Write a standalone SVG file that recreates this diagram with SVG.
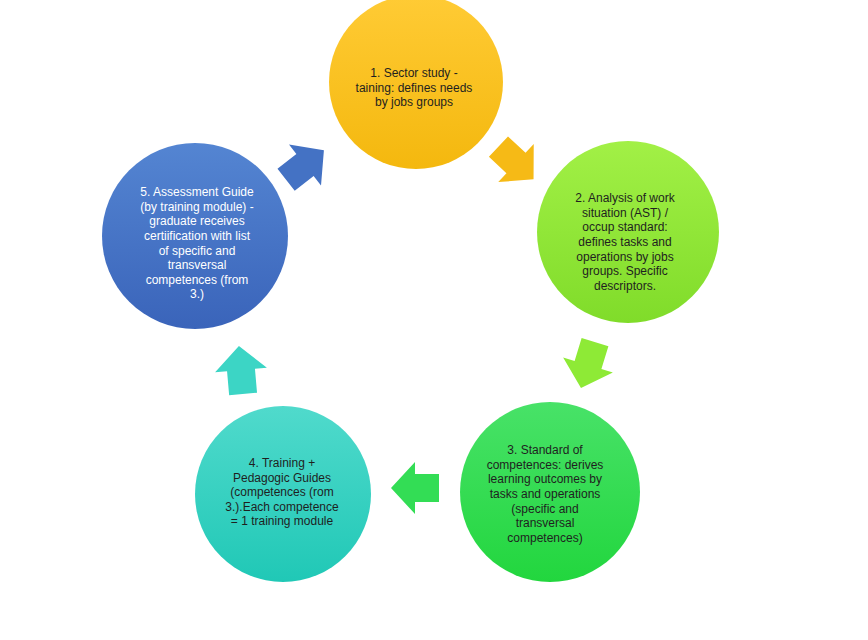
<svg xmlns="http://www.w3.org/2000/svg" width="868" height="640" viewBox="0 0 868 640">
<style>
.t{font-family:"Liberation Sans",Arial,sans-serif;font-size:12px;text-anchor:middle;fill:#1f1f1f}
.w{fill:#ffffff}
</style>
<defs>
<linearGradient id="gy" x1="0" y1="0" x2="0" y2="1"><stop offset="0" stop-color="#FFCB35"/><stop offset="1" stop-color="#F4B80E"/></linearGradient>
<linearGradient id="gl" x1="0" y1="0" x2="0" y2="1"><stop offset="0" stop-color="#A2F046"/><stop offset="1" stop-color="#80DC2A"/></linearGradient>
<linearGradient id="gg" x1="0" y1="0" x2="0" y2="1"><stop offset="0" stop-color="#48E268"/><stop offset="1" stop-color="#22D63E"/></linearGradient>
<linearGradient id="gt" x1="0" y1="0" x2="0" y2="1"><stop offset="0" stop-color="#50DACC"/><stop offset="1" stop-color="#20C8B6"/></linearGradient>
<linearGradient id="gb" x1="0" y1="0" x2="0" y2="1"><stop offset="0" stop-color="#5485D2"/><stop offset="1" stop-color="#3A64BA"/></linearGradient>
<polygon id="arr" points="-24,-14 0,-14 0,-26 24,0 0,26 0,14 -24,14"/>
</defs>
<rect width="868" height="640" fill="#ffffff"/>
<g id="connectors">
<use href="#arr" transform="translate(516,163) rotate(43)" fill="#F6BA16"/>
<use href="#arr" transform="translate(588,365) rotate(107)" fill="#8EEA36"/>
<use href="#arr" transform="translate(415,488) rotate(180)" fill="#33DD55"/>
<use href="#arr" transform="translate(241,370) rotate(-95)" fill="#3CD5C5"/>
<use href="#arr" transform="translate(305,165) rotate(-38)" fill="#4472C4"/>
</g>
<g id="node1">
<circle cx="416" cy="82" r="87" fill="url(#gy)"/>
<text class="t" x="414" y="77">1. Sector study -</text>
<text class="t" x="414" y="92">taining: defines needs</text>
<text class="t" x="414" y="106">by jobs groups</text>
</g>
<g id="node2">
<circle cx="628" cy="232" r="91" fill="url(#gl)"/>
<text class="t" x="625" y="202">2. Analysis of work</text>
<text class="t" x="625" y="217">situation (AST) /</text>
<text class="t" x="625" y="231">occup standard:</text>
<text class="t" x="625" y="246">defines tasks and</text>
<text class="t" x="625" y="261">operations by jobs</text>
<text class="t" x="625" y="275">groups. Specific</text>
<text class="t" x="625" y="290">descriptors.</text>
</g>
<g id="node3">
<circle cx="550" cy="492" r="90" fill="url(#gg)"/>
<text class="t" x="545" y="454">3. Standard of</text>
<text class="t" x="545" y="469">competences: derives</text>
<text class="t" x="545" y="483">learning outcomes by</text>
<text class="t" x="545" y="498">tasks and operations</text>
<text class="t" x="545" y="513">(specific and</text>
<text class="t" x="545" y="527">transversal</text>
<text class="t" x="545" y="542">competences)</text>
</g>
<g id="node4">
<circle cx="283" cy="494" r="88" fill="url(#gt)"/>
<text class="t" x="282" y="467">4. Training +</text>
<text class="t" x="282" y="482">Pedagogic Guides</text>
<text class="t" x="282" y="496">(competences (rom</text>
<text class="t" x="282" y="511">3.).Each competence</text>
<text class="t" x="282" y="525">= 1 training module</text>
</g>
<g id="node5">
<circle cx="195" cy="236" r="93" fill="url(#gb)"/>
<text class="t w" x="197" y="196">5. Assessment Guide</text>
<text class="t w" x="197" y="211">(by training module) -</text>
<text class="t w" x="197" y="225">graduate receives</text>
<text class="t w" x="197" y="240">certiification with list</text>
<text class="t w" x="197" y="255">of specific and</text>
<text class="t w" x="197" y="269">transversal</text>
<text class="t w" x="197" y="284">competences (from</text>
<text class="t w" x="197" y="298">3.)</text>
</g>
</svg>
